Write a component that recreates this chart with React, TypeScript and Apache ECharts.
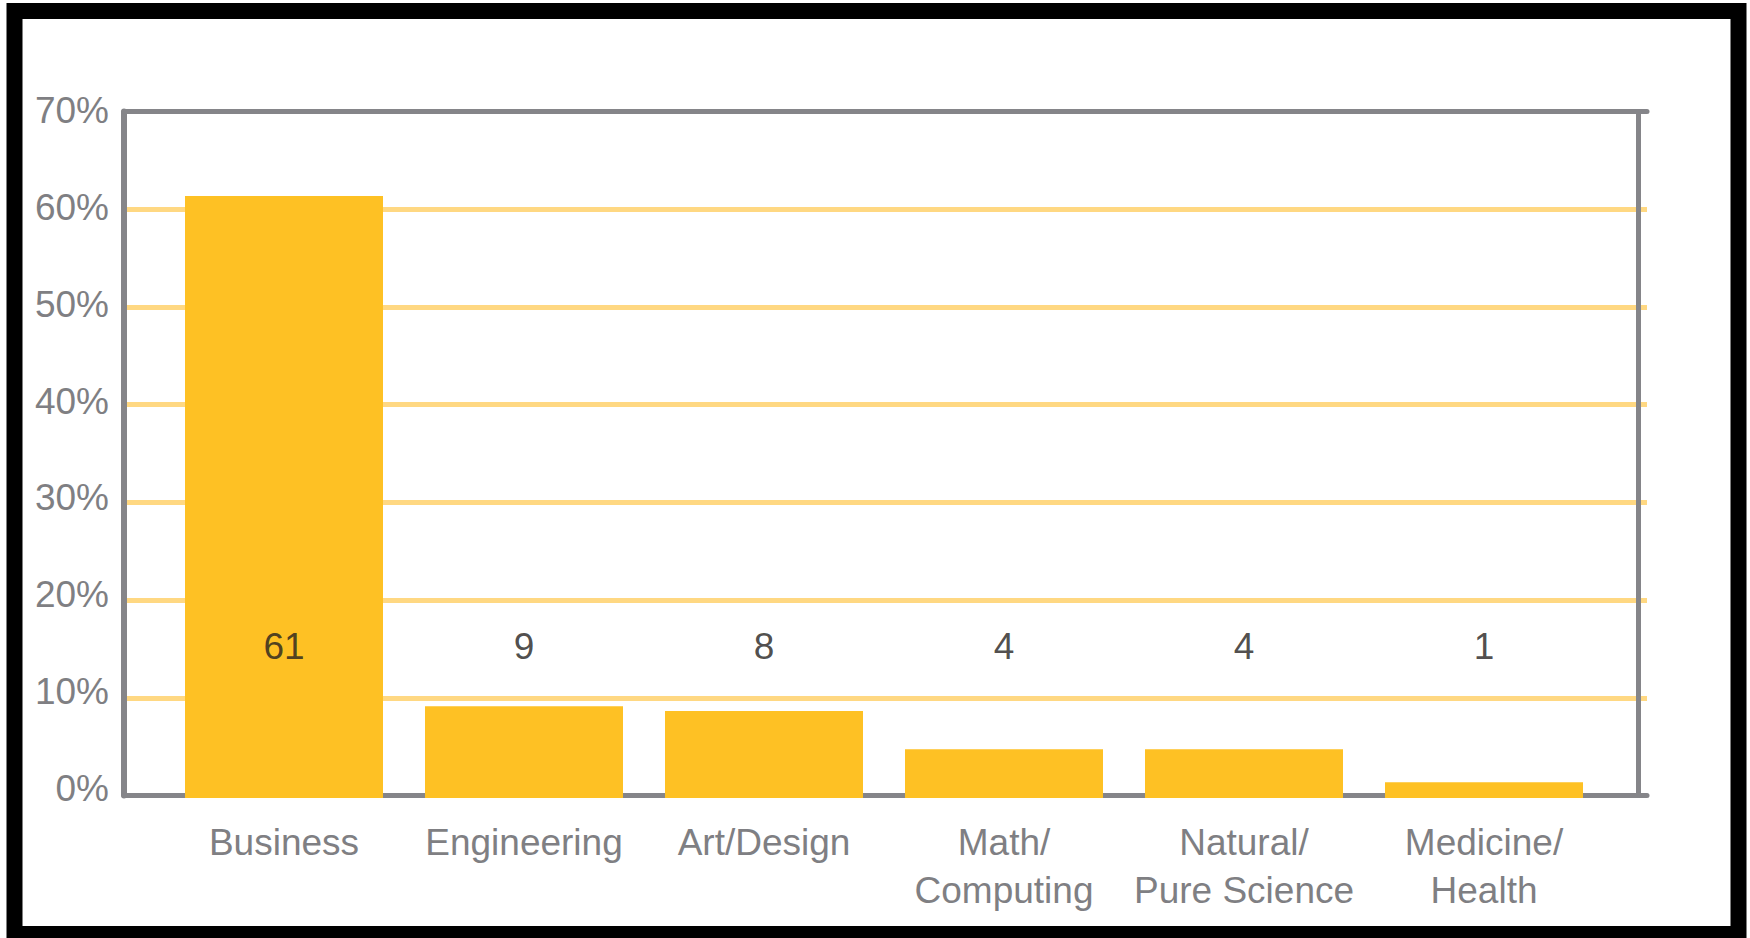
import React, { useEffect, useRef } from "react";
import * as echarts from "echarts";

const categories = [
  "Business",
  "Engineering",
  "Art/Design",
  "Math/\nComputing",
  "Natural/\nPure Science",
  "Medicine/\nHealth",
];
const percentages = [61.6, 9.4, 8.9, 5.0, 5.0, 1.6];
const counts = [61, 9, 8, 4, 4, 1];
const yMin = 0;
const yMax = 70;
const yStep = 10;

const FONT = "'Liberation Sans', Arial, sans-serif";
const GRAY = "#858589";
const ORANGE = "#FFD882";
const BAR = "#FEC124";
const TEXT_GRAY = "#7f7f83";
const LABEL_LEVEL = 15.5;

export default function App() {
  const ref = useRef<HTMLDivElement>(null);
  useEffect(() => {
    if (!ref.current) return;
    const chart = echarts.init(ref.current, undefined, { renderer: "svg" });
    const hiddenX = (gridIndex: number, position: string, showLine: boolean) => ({
      gridIndex,
      type: "value",
      min: 0,
      max: 1,
      position,
      axisLine: { show: showLine, onZero: false, lineStyle: { color: GRAY, width: 5 } },
      axisTick: { show: false },
      axisLabel: { show: false },
      splitLine: { show: false },
    });
    const option: any = {
      animation: false,
      backgroundColor: "#ffffff",
      grid: [
        { left: 124, top: 111.5, width: 1523, height: 684 },
        { left: 164, top: 114, width: 1440, height: 684 },
        { left: 124, top: 110.5, width: 1523, height: 678 },
      ],
      xAxis: [
        hiddenX(0, "bottom", true),
        hiddenX(0, "top", true),
        {
          gridIndex: 1,
          type: "category",
          data: categories,
          axisLine: { show: false },
          axisTick: { show: false },
          splitLine: { show: false },
          axisLabel: {
            interval: 0,
            fontFamily: FONT,
            fontSize: 37,
            lineHeight: 48,
            color: TEXT_GRAY,
            margin: 20,
          },
        },
        hiddenX(2, "bottom", false),
      ],
      yAxis: [
        {
          gridIndex: 0,
          type: "value",
          min: yMin,
          max: yMax,
          interval: yStep,
          position: "left",
          axisLine: { show: true, onZero: false, lineStyle: { color: GRAY, width: 6 } },
          axisTick: { show: false },
          axisLabel: { show: false },
          splitLine: {
            show: true,
            showMinLine: false,
            showMaxLine: false,
            lineStyle: { color: ORANGE, width: 5 },
          },
        },
        {
          gridIndex: 0,
          type: "value",
          min: yMin,
          max: yMax,
          interval: yStep,
          position: "right",
          offset: -9,
          axisLine: { show: true, onZero: false, lineStyle: { color: GRAY, width: 5 } },
          axisTick: { show: false },
          axisLabel: { show: false },
          splitLine: { show: false },
        },
        {
          gridIndex: 1,
          type: "value",
          min: yMin,
          max: yMax,
          show: false,
        },
        {
          gridIndex: 2,
          type: "value",
          min: yMin,
          max: yMax,
          interval: yStep,
          position: "left",
          axisLine: { show: false },
          axisTick: { show: false },
          splitLine: { show: false },
          axisLabel: {
            formatter: "{value}%",
            fontFamily: FONT,
            fontSize: 37,
            color: TEXT_GRAY,
            margin: 15,
          },
        },
      ],
      series: [
        {
          type: "bar",
          xAxisIndex: 2,
          yAxisIndex: 2,
          data: percentages,
          barWidth: 198,
          itemStyle: { color: BAR },
        },
        {
          type: "scatter",
          xAxisIndex: 2,
          yAxisIndex: 2,
          data: counts.map((_, i) => [i, LABEL_LEVEL]),
          symbolSize: 0,
          silent: true,
          label: {
            show: true,
            position: "inside",
            formatter: (p: any) => String(counts[p.dataIndex]),
            fontFamily: FONT,
            fontSize: 37,
            color: "#231f20",
          },
          z: 5,
        },
      ],
      graphic: [
        {
          type: "rect",
          z: 100,
          shape: { x: 14.5, y: 11, width: 1724, height: 923 },
          style: { fill: "none", stroke: "#000000", lineWidth: 16 },
        },
      ],
    };
    chart.setOption(option);
    return () => chart.dispose();
  }, []);
  return (
    <div
      ref={ref}
      style={{ position: "absolute", left: 0, top: 0, width: 1750, height: 938 }}
    />
  );
}
